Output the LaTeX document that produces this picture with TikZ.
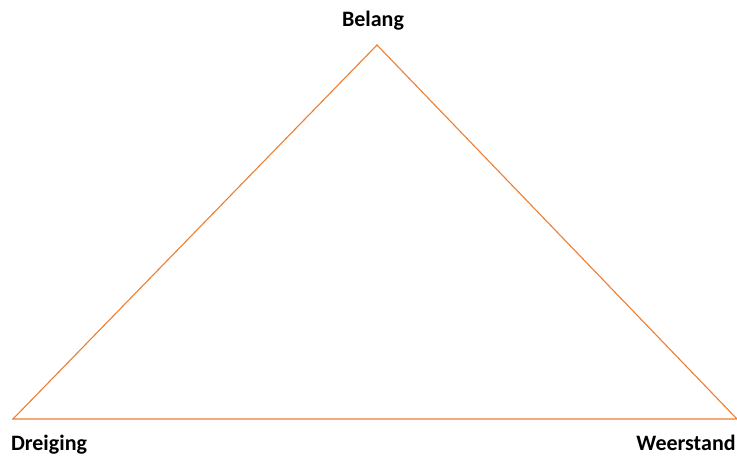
\documentclass[tikz,border=0pt]{standalone}
\usepackage{fontspec}
\setmainfont{Carlito}
\definecolor{kantoranje}{HTML}{ED7D31}

\begin{document}
\begin{tikzpicture}[x=1pt, y=-1pt,
  hoek/.style={font=\bfseries\fontsize{22}{25}\selectfont, inner sep=0pt, anchor=base}]
\useasboundingbox (0,0) rectangle (737,457);
\coordinate (top) at (377,45);
\coordinate (links) at (13,419);
\coordinate (rechts) at (737,419);
\draw[kantoranje, line width=1.1pt, line join=miter] (links) -- (top) -- (rechts) -- cycle;
\node[hoek] (belang) at (373,27) {Belang};
\node[hoek] (dreiging) at (49,450) {Dreiging};
\node[hoek] (weerstand) at (686,450) {Weerstand};
\end{tikzpicture}
\end{document}
